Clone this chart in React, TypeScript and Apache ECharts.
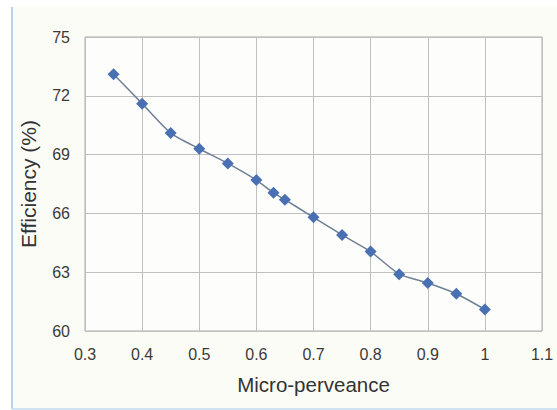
import React, { useEffect, useRef } from "react";
import * as echarts from "echarts";

const xValues = [0.35, 0.4, 0.45, 0.5, 0.55, 0.6, 0.63, 0.65, 0.7, 0.75, 0.8, 0.85, 0.9, 0.95, 1.0];
const efficiency = [73.1, 71.6, 70.1, 69.3, 68.55, 67.7, 67.05, 66.7, 65.8, 64.9, 64.05, 62.9, 62.45, 61.9, 61.1];

export default function App() {
  const ref = useRef<HTMLDivElement>(null);
  useEffect(() => {
    document.body.style.margin = "0";
    const chart = echarts.init(ref.current!, undefined, { renderer: "svg" });
    const font = "'Liberation Sans', Arial, sans-serif";
    chart.setOption({
      animation: false,
      backgroundColor: "#ffffff",
      graphic: [
        { type: "rect", shape: { x: 12, y: 7, width: 545, height: 401 }, style: { fill: "#fcfcf7" }, z: -10 },
        { type: "line", shape: { x1: 12, y1: 7, x2: 12, y2: 409 }, style: { stroke: "#b9d3ea", lineWidth: 2 }, z: -9 },
        { type: "line", shape: { x1: 12, y1: 409, x2: 557, y2: 409 }, style: { stroke: "#cfe3f3", lineWidth: 2 }, z: -9 },
      ],
      grid: { left: 85, top: 37, right: 15, bottom: 79, show: true, borderColor: "#a8a8a8", borderWidth: 1, backgroundColor: "#fdfdfb" },
      xAxis: {
        type: "value",
        min: 0.3,
        max: 1.1,
        interval: 0.1,
        name: "Micro-perveance",
        nameLocation: "middle",
        nameGap: 43,
        nameTextStyle: { fontSize: 20.5, color: "#333", fontFamily: font },
        axisLine: { show: false },
        axisTick: { show: false },
        axisLabel: { fontSize: 16, color: "#3a3a3a", margin: 15, fontFamily: font, formatter: (v: number) => String(Math.round(v * 10) / 10) },
        splitLine: { show: true, lineStyle: { color: "#c0c0c0", width: 1 } },
      },
      yAxis: {
        type: "value",
        min: 60,
        max: 75,
        interval: 3,
        name: "Efficiency (%)",
        nameLocation: "middle",
        nameGap: 46,
        nameTextStyle: { fontSize: 21, color: "#333", fontFamily: font },
        axisLine: { show: false },
        axisTick: { show: false },
        axisLabel: { fontSize: 16, color: "#3a3a3a", margin: 15, fontFamily: font },
        splitLine: { show: true, lineStyle: { color: "#c0c0c0", width: 1 } },
      },
      series: [
        {
          type: "line",
          data: xValues.map((x, i) => [x, efficiency[i]]),
          smooth: 0.2,
          symbol: "diamond",
          symbolSize: 12,
          lineStyle: { color: "#6e7f96", width: 1.5 },
          itemStyle: { color: "#4a70b4" },
        },
      ],
    });
    return () => chart.dispose();
  }, []);
  return <div ref={ref} style={{ width: 557, height: 410 }} />;
}
